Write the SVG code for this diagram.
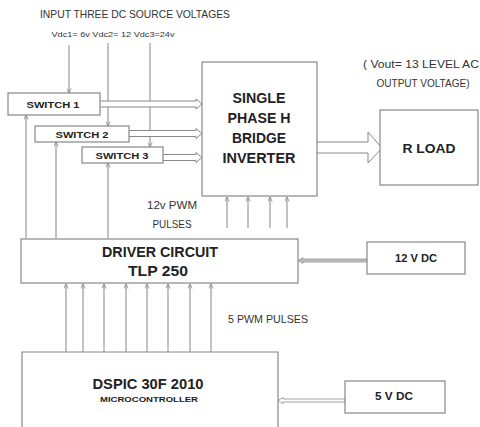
<svg xmlns="http://www.w3.org/2000/svg" width="480" height="427" viewBox="0 0 480 427">
<defs>
<style>
.box{fill:#fff;stroke:#888;stroke-width:1.2}
.ln{stroke:#999;stroke-width:1.2;fill:none}
.dbl{stroke:#888;stroke-width:1;fill:#fff}
.t{font-family:"Liberation Sans",Arial,sans-serif;fill:#333;text-anchor:middle}
.b{font-weight:bold;fill:#222}
</style>
<marker id="ah" viewBox="0 0 6 6" refX="5.5" refY="3" markerWidth="5" markerHeight="5" orient="auto" markerUnits="userSpaceOnUse">
<path d="M0,0.5 L6,3 L0,5.5" fill="none" stroke="#888" stroke-width="1"/>
</marker>
</defs>
<rect width="480" height="427" fill="#fff"/>

<g id="labels">
<text class="t" x="135" y="18" font-size="11" textLength="190" lengthAdjust="spacingAndGlyphs">INPUT THREE DC SOURCE VOLTAGES</text>
<text class="t" x="113" y="37" font-size="8" textLength="123" lengthAdjust="spacingAndGlyphs">Vdc1= 6v  Vdc2= 12  Vdc3=24v</text>
<text class="t" x="421" y="68" font-size="11" textLength="116" lengthAdjust="spacingAndGlyphs">( Vout= 13 LEVEL AC</text>
<text class="t" x="423" y="87" font-size="11" textLength="93" lengthAdjust="spacingAndGlyphs">OUTPUT VOLTAGE)</text>
<text class="t" x="172" y="209" font-size="11" textLength="50" lengthAdjust="spacingAndGlyphs">12v PWM</text>
<text class="t" x="172" y="228" font-size="11" textLength="39" lengthAdjust="spacingAndGlyphs">PULSES</text>
<text class="t" x="268" y="323" font-size="11" textLength="80" lengthAdjust="spacingAndGlyphs">5 PWM PULSES</text>
</g>

<g id="connectors">
<!-- source voltage lines -->
<line class="ln" x1="69" y1="45" x2="69" y2="93" marker-end="url(#ah)"/>
<line class="ln" x1="108" y1="43" x2="108" y2="126" marker-end="url(#ah)"/>
<line class="ln" x1="150" y1="43" x2="150" y2="147" marker-end="url(#ah)"/>
<!-- driver to switches -->
<line class="ln" x1="26" y1="238" x2="26" y2="115" marker-end="url(#ah)"/>
<line class="ln" x1="56" y1="238" x2="56" y2="142" marker-end="url(#ah)"/>
<line class="ln" x1="108" y1="238" x2="108" y2="163" marker-end="url(#ah)"/>
<!-- driver to inverter -->
<line class="ln" x1="227" y1="228" x2="227" y2="197" marker-end="url(#ah)"/>
<line class="ln" x1="248" y1="228" x2="248" y2="197" marker-end="url(#ah)"/>
<line class="ln" x1="270" y1="228" x2="270" y2="197" marker-end="url(#ah)"/>
<line class="ln" x1="287" y1="228" x2="287" y2="197" marker-end="url(#ah)"/>
<!-- dspic to driver -->
<line class="ln" x1="66" y1="352" x2="66" y2="284" marker-end="url(#ah)"/>
<line class="ln" x1="83" y1="352" x2="83" y2="284" marker-end="url(#ah)"/>
<line class="ln" x1="104" y1="352" x2="104" y2="284" marker-end="url(#ah)"/>
<line class="ln" x1="126" y1="352" x2="126" y2="284" marker-end="url(#ah)"/>
<line class="ln" x1="147" y1="352" x2="147" y2="284" marker-end="url(#ah)"/>
<line class="ln" x1="168" y1="352" x2="168" y2="284" marker-end="url(#ah)"/>
<line class="ln" x1="190" y1="352" x2="190" y2="284" marker-end="url(#ah)"/>
<line class="ln" x1="211" y1="352" x2="211" y2="284" marker-end="url(#ah)"/>
<!-- switch outputs (double arrows) -->
<path class="dbl" d="M100,101 L196,101 L196,99 L202,104 L196,109 L196,107 L100,107"/>
<path class="dbl" d="M129,130.5 L196,130.5 L196,128.5 L202,133.5 L196,138.5 L196,136.5 L129,136.5"/>
<path class="dbl" d="M163,154.5 L196,154.5 L196,152.5 L202,157.5 L196,162.5 L196,160.5 L163,160.5"/>
<!-- inverter to load -->
<path class="dbl" d="M317,142 L368,142 L368,132 L382,148 L368,163 L368,153 L317,153"/>
<!-- 12V DC to driver -->
<path d="M367,259 L303,259 L303,257.5 L298,260.5 L303,263.5 L303,262 L367,262 Z" fill="#bbb" stroke="#999" stroke-width="0.8"/>
<!-- 5V DC to dspic -->
<path d="M345,399 L283,399 L283,397.5 L278,400.5 L283,403.5 L283,402 L345,402 Z" fill="#fff" stroke="#999" stroke-width="0.9"/>
</g>

<g id="switch1">
<rect class="box" x="8" y="93" width="92" height="22"/>
<text class="t b" x="53" y="107.5" font-size="9.5" textLength="53" lengthAdjust="spacingAndGlyphs">SWITCH 1</text>
</g>
<g id="switch2">
<rect class="box" x="35" y="126" width="94" height="16"/>
<text class="t b" x="82" y="137.5" font-size="9.5" textLength="53" lengthAdjust="spacingAndGlyphs">SWITCH 2</text>
</g>
<g id="switch3">
<rect class="box" x="82" y="147" width="81" height="16"/>
<text class="t b" x="122" y="159" font-size="9.5" textLength="53" lengthAdjust="spacingAndGlyphs">SWITCH 3</text>
</g>
<g id="inverter">
<rect class="box" x="202" y="62" width="115" height="134"/>
<text class="t b" x="259" y="103" font-size="14" textLength="53" lengthAdjust="spacingAndGlyphs">SINGLE</text>
<text class="t b" x="259" y="123" font-size="14" textLength="63" lengthAdjust="spacingAndGlyphs">PHASE H</text>
<text class="t b" x="259" y="143" font-size="14" textLength="54" lengthAdjust="spacingAndGlyphs">BRIDGE</text>
<text class="t b" x="259" y="163" font-size="14" textLength="73" lengthAdjust="spacingAndGlyphs">INVERTER</text>
</g>
<g id="rload">
<rect class="box" x="380" y="110" width="98" height="75"/>
<text class="t b" x="429" y="153" font-size="13" textLength="53" lengthAdjust="spacingAndGlyphs">R LOAD</text>
</g>
<g id="driver">
<rect class="box" x="21" y="239" width="277" height="44"/>
<text class="t b" x="160" y="257" font-size="14" textLength="116" lengthAdjust="spacingAndGlyphs">DRIVER CIRCUIT</text>
<text class="t b" x="158" y="276" font-size="14" textLength="60" lengthAdjust="spacingAndGlyphs">TLP 250</text>
</g>
<g id="dc12">
<rect class="box" x="367" y="242" width="98" height="32"/>
<text class="t b" x="416" y="262" font-size="10" textLength="42" lengthAdjust="spacingAndGlyphs">12 V DC</text>
</g>
<g id="dspic">
<path class="box" d="M22,427 L22,352 L278,352 L278,427"/>
<text class="t b" x="148" y="389" font-size="15" textLength="111" lengthAdjust="spacingAndGlyphs">DSPIC 30F 2010</text>
<text class="t b" x="149" y="402" font-size="7" textLength="98" lengthAdjust="spacingAndGlyphs">MICROCONTROLLER</text>
</g>
<g id="dc5">
<rect class="box" x="345" y="381" width="100" height="32"/>
<text class="t b" x="394" y="400" font-size="10" textLength="38" lengthAdjust="spacingAndGlyphs">5 V DC</text>
</g>
</svg>
